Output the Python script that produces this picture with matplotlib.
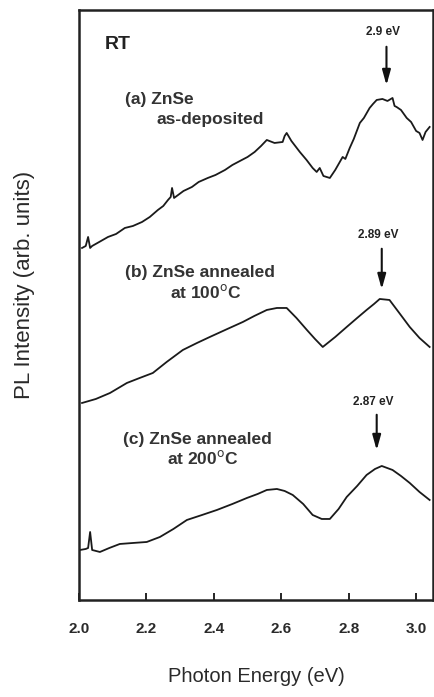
import matplotlib
matplotlib.use("Agg")
import matplotlib.pyplot as plt

plt.rcParams['font.family'] = ['Liberation Sans', 'DejaVu Sans']

# Curve (a) ZnSe as-deposited
energy_a = [2.009, 2.020, 2.027, 2.033, 2.039, 2.060, 2.086, 2.110, 2.136, 2.160, 2.187, 2.210,
            2.234, 2.250, 2.264, 2.272, 2.276, 2.282, 2.290, 2.310, 2.335, 2.355, 2.382, 2.405,
            2.433, 2.455, 2.483, 2.500, 2.521, 2.540, 2.557, 2.580, 2.604, 2.610, 2.616, 2.630,
            2.655, 2.675, 2.693, 2.705, 2.714, 2.725, 2.744, 2.760, 2.782, 2.790, 2.803, 2.815,
            2.833, 2.845, 2.862, 2.872, 2.883, 2.900, 2.915, 2.930, 2.936, 2.942, 2.955, 2.972,
            2.985, 3.000, 3.010, 3.019, 3.028, 3.040]
intens_a = [352, 354, 363, 352, 354, 358, 363, 366, 372, 374, 378, 383,
            390, 394, 400, 403, 412, 402, 404, 409, 413, 418, 422, 425,
            430, 435, 440, 443, 448, 454, 460, 457, 458, 464, 467, 459,
            448, 440, 432, 428, 432, 424, 422, 430, 443, 441, 452, 461,
            477, 482, 492, 496, 500, 501, 499, 502, 494, 493, 490, 482,
            478, 469, 467, 460, 468, 473]

# Curve (b) ZnSe annealed at 100 C
energy_b = [2.009, 2.050, 2.092, 2.142, 2.180, 2.219, 2.260, 2.308, 2.350, 2.388, 2.440, 2.486,
            2.520, 2.557, 2.587, 2.616, 2.645, 2.676, 2.700, 2.723, 2.760, 2.794, 2.825, 2.853,
            2.875, 2.892, 2.921, 2.950, 2.981, 3.010, 3.040]
intens_b = [197, 201, 207, 217, 222, 227, 238, 250, 257, 263, 271, 278,
            284, 290, 292, 292, 282, 270, 261, 253, 263, 273, 282, 290,
            296, 301, 300, 287, 273, 262, 253]

# Curve (c) ZnSe annealed at 200 C
energy_c = [2.003, 2.020, 2.027, 2.033, 2.039, 2.062, 2.090, 2.121, 2.160, 2.201, 2.240, 2.280,
            2.320, 2.365, 2.409, 2.455, 2.498, 2.530, 2.557, 2.587, 2.610, 2.634, 2.665, 2.693,
            2.720, 2.744, 2.770, 2.794, 2.825, 2.853, 2.878, 2.898, 2.930, 2.955, 2.981, 3.010,
            3.040]
intens_c = [50, 51, 52, 68, 50, 48, 52, 56, 57, 58, 63, 71,
            80, 85, 90, 96, 102, 106, 110, 111, 109, 105, 96, 85,
            81, 81, 91, 103, 114, 125, 131, 134, 130, 124, 117, 108,
            100]

label_line1 = ["(a) ZnSe", "(b) ZnSe annealed", "(c) ZnSe annealed"]
label_line2 = ["as-deposited", "at 100$^{\\rm o}$C", "at 200$^{\\rm o}$C"]
peak_labels = ["2.9 eV", "2.89 eV", "2.87 eV"]
peak_energy = [2.912, 2.898, 2.883]

fig = plt.figure(figsize=(4.35, 6.97), dpi=100)
ax = fig.add_axes([0.1816, 0.1392, 0.9954 - 0.1816, 0.9857 - 0.1392])

lc = '#1a1a1a'
for e, i in [(energy_a, intens_a), (energy_b, intens_b), (energy_c, intens_c)]:
    ax.plot(e, i, color=lc, lw=1.3)

ax.set_xlim(2.0, 3.05)
ax.set_ylim(0, 590)
ax.set_xticks([2.0, 2.2, 2.4, 2.6, 2.8, 3.0])
ax.set_xticklabels(['2.0', '2.2', '2.4', '2.6', '2.8', '3.0'], fontweight='bold', fontsize=11,
                   color='#2a2a2a')
ax.set_yticks([])
ax.tick_params(axis='x', direction='in', length=5, width=1.2, pad=16)
for s in ax.spines.values():
    s.set_linewidth(1.8)
    s.set_color('#222222')

ax.set_xlabel('Photon Energy (eV)', fontsize=14.5, color='#2a2a2a', labelpad=22)
ax.set_ylabel('PL Intensity (arb. units)', fontsize=16, color='#2a2a2a')
ax.yaxis.set_label_coords(-0.125, 0.534)

ax.text(2.077, 555, 'RT', fontsize=14, fontweight='bold', color='#222222', va='center', ha='left')

line1_pos = [(2.136, 500), (2.136, 327), (2.130, 160)]
line2_pos = [(2.231, 480), (2.270, 308), (2.261, 142)]
for (x1, y1), (x2, y2), l1, l2 in zip(line1_pos, line2_pos, label_line1, label_line2):
    ax.text(x1, y1, l1, fontsize=12.5, fontweight='bold', color='#333333', va='center', ha='left')
    ax.text(x2, y2, l2, fontsize=12.5, fontweight='bold', color='#333333', va='center', ha='left')

arrow_tail = [556, 354, 188]
arrow_tip = [512, 308, 147]
text_y = [568, 365, 198]
for xe, lab, ty, tt, tp in zip(peak_energy, peak_labels, text_y, arrow_tail, arrow_tip):
    ax.text(xe - 0.01, ty, lab, fontsize=8.5, fontweight='bold', color='#222222',
            ha='center', va='center')
    ax.annotate('', xy=(xe, tp), xytext=(xe, tt),
                arrowprops=dict(arrowstyle='-|>,head_length=0.9,head_width=0.25', color='#111111',
                                lw=1.5, mutation_scale=10))

fig.savefig('out.png', dpi=100)
